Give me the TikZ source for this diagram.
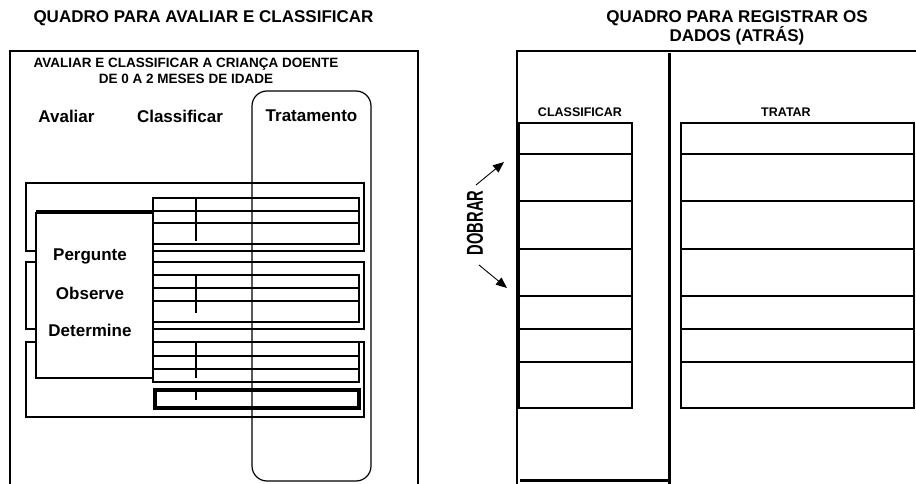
\documentclass[tikz,border=0pt]{standalone}
\usepackage{fontspec}
\setmainfont{Liberation Sans}
\usetikzlibrary{positioning,arrows.meta}
\tikzset{>={Triangle[length=11pt,width=9pt]}}
\tikzset{
  fina/.style={line width=1.2pt},
  grossa/.style={line width=3pt},
  titulo/.style={font=\bfseries\fontsize{17}{19}\selectfont},
  rotulo/.style={font=\bfseries\fontsize{12.5}{15}\selectfont},
}

\begin{document}
\begin{tikzpicture}[x=1pt,y=-1pt]
\useasboundingbox (0,0) rectangle (916,484);
% quadro da esquerda
\node[titulo] (tit1) at (203.5,18) {QUADRO PARA AVALIAR E CLASSIFICAR};
\draw[fina] (10,484) -- (10,51) -- (418,51) -- (418,484);
\node[font=\bfseries\fontsize{13.5}{16}\selectfont,align=center] (sub) at (186,71)
  {AVALIAR E CLASSIFICAR A CRIANÇA DOENTE\\DE 0 A 2 MESES DE IDADE};
\node[titulo] (aval) at (66.5,116) {Avaliar};
\node[titulo] (class) at (180,116) {Classificar};
\node[titulo] (trat) at (311.5,116) {Tratamento};
\draw[fina] (26,183) rectangle (364,251);
\draw[fina] (26,262) rectangle (364,329);
\draw[fina] (26,342) rectangle (364,417);
\foreach \ya/\yb/\yc/\yd/\ye in {198/211/223/244/241, 275/288/301/322/313, 342/356/369/382/378}{
  \draw[fina] (153,\ya) rectangle (359,\yd);
  \draw[fina] (153,\yb) -- (359,\yb) (153,\yc) -- (359,\yc);
  \draw[fina] (196,\ya) -- (196,\ye);
}
\draw[line width=3.2pt] (155,390) rectangle (359,408);
\draw[fina] (196,390) -- (196,400);
\draw[fina,fill=white] (36,213) rectangle (153,378);
\draw[fina] (36,211) -- (153,211);
\node[titulo] (perg) at (90,256) {Pergunte};
\node[titulo] (obs) at (90,293) {Observe};
\node[titulo] (det) at (90,330) {Determine};
\draw[fina,rounded corners=15pt] (252,91) rectangle (371,481);
% quadro da direita
\node[titulo,align=center] (tit2) at (737,27.5) {QUADRO PARA REGISTRAR OS\\DADOS (ATRÁS)};
\draw[fina] (517,484) -- (517,51) -- (916,51);
\draw[grossa] (669,53) -- (669,484);
\draw[grossa] (520,480) -- (669,480);
\node[rotulo] (cls) at (580,112) {CLASSIFICAR};
\node[rotulo] (tra) at (786,112) {TRATAR};
\foreach \ya/\yb in {123/154,154/201,201/249,249/296,296/329,329/362,362/408}{
  \draw[fina] (519,\ya) rectangle (632,\yb);
  \draw[fina] (681,\ya) rectangle (914,\yb);
}
\node[rotate=90,font=\bfseries\fontsize{23}{25}\selectfont] (dobrar) at (475,223)
  {\scalebox{0.64}[1]{DOBRAR}};
\coordinate (d1) at (476,185);
\coordinate (s1) at (504,162);
\coordinate (d2) at (479,265);
\coordinate (s2) at (507,288);
\draw[->,line width=0.9pt] (d1) -- (s1);
\draw[->,line width=0.9pt] (d2) -- (s2);
\end{tikzpicture}
\end{document}
